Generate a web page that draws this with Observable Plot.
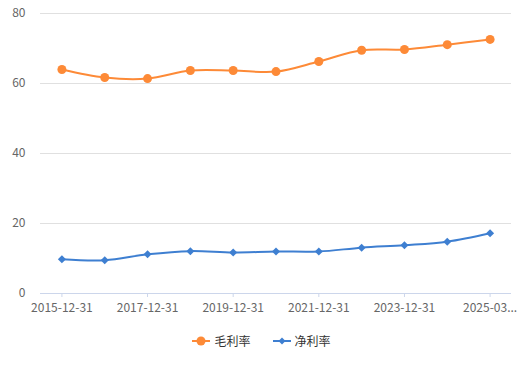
<!DOCTYPE html>
<html>
<head>
<meta charset="utf-8">
<script src="https://cdn.jsdelivr.net/npm/d3@7"></script>
<script src="https://cdn.jsdelivr.net/npm/@observablehq/plot@0.6"></script>
<style>
  body { margin: 0; background: #fff; font-family: "Noto Sans CJK SC", "Noto Sans", sans-serif; }
  #chart { width: 523px; }
  .legend { display: flex; justify-content: center; gap: 22px; margin-top: 12px; font-size: 12px; color: #333; margin-left: 0px; }
  .legend .item { display: flex; align-items: center; gap: 4px; }
</style>
</head>
<body>
<div id="chart"></div>
<script>
const dates = ["2015-12-31","2016-12-31","2017-12-31","2018-12-31","2019-12-31","2020-12-31","2021-12-31","2022-12-31","2023-12-31","2024-12-31","2025-03-31"];
const grossMargin = [64.0, 61.7, 61.4, 63.7, 63.7, 63.4, 66.3, 69.5, 69.7, 71.1, 72.6];
const netMargin = [9.8, 9.5, 11.2, 12.1, 11.7, 12.0, 12.0, 13.1, 13.8, 14.8, 17.2];
const seriesNames = ["毛利率", "净利率"];
const colors = ["#fd8a37", "#3e7fd1"];
const yTicks = [0, 20, 40, 60, 80];

const gross = dates.map((d, i) => ({date: d, value: grossMargin[i]}));
const net = dates.map((d, i) => ({date: d, value: netMargin[i]}));

const xLabel = d => {
  const i = dates.indexOf(d);
  if (i === dates.length - 1) return d.slice(0, 7) + "...";
  return i % 2 === 0 ? d : "";
};

const chart = Plot.plot({
  width: 523,
  height: 320,
  marginLeft: 40,
  marginRight: 12,
  marginTop: 13,
  marginBottom: 27,
  style: {fontSize: "12px", fontFamily: "'Noto Sans CJK SC', 'Noto Sans', sans-serif", color: "#666"},
  x: {type: "point", domain: dates, padding: 0.5, round: false, label: null},
  y: {domain: [0, 80], label: null},
  marks: [
    Plot.gridY(yTicks, {stroke: "#e0e0e0", strokeOpacity: 1}),
    Plot.axisY(yTicks, {tickSize: 0, tickPadding: 15, fill: "#666", label: null}),
    Plot.ruleY([0], {stroke: "#ccd6eb", strokeWidth: 1.2}),
    Plot.axisX({ticks: dates.filter((d, i) => i % 2 === 0 || i === dates.length - 1), tickSize: 4, stroke: "#ccd6eb", tickFormat: xLabel, tickPadding: 6, fill: "#666", label: null}),
    Plot.line(gross, {x: "date", y: "value", stroke: colors[0], strokeWidth: 2, curve: "catmull-rom"}),
    Plot.line(net, {x: "date", y: "value", stroke: colors[1], strokeWidth: 2, curve: "catmull-rom"}),
    Plot.dot(gross, {x: "date", y: "value", fill: colors[0], r: 4.5, symbol: "circle"}),
    Plot.dot(net, {x: "date", y: "value", fill: colors[1], r: 3.2, symbol: "square", rotate: 45})
  ]
});
document.getElementById("chart").appendChild(chart);

const legend = document.createElement("div");
legend.className = "legend";
seriesNames.forEach((name, i) => {
  const item = document.createElement("div");
  item.className = "item";
  const marker = i === 0
    ? `<circle cx="9" cy="6" r="4.5" fill="${colors[i]}"/>`
    : `<path d="M9,2.5 L12.5,6 L9,9.5 L5.5,6 Z" fill="${colors[i]}"/>`;
  item.innerHTML = `<svg width="18" height="12"><line x1="0" y1="6" x2="18" y2="6" stroke="${colors[i]}" stroke-width="2"/>${marker}</svg><span>${name}</span>`;
  legend.appendChild(item);
});
document.getElementById("chart").appendChild(legend);
</script>
</body>
</html>
